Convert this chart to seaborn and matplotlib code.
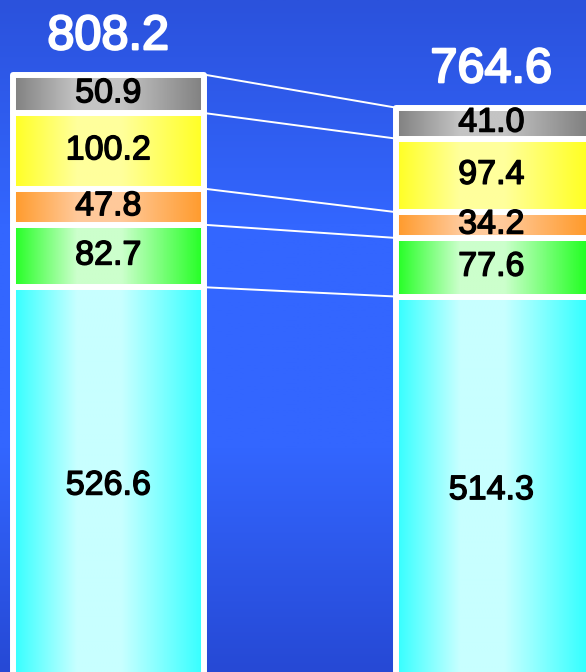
import numpy as np
import pandas as pd
import matplotlib
matplotlib.use("Agg")
import matplotlib.pyplot as plt
import matplotlib.patheffects as pe
from matplotlib.colors import LinearSegmentedColormap
import seaborn as sns

# Data (bottom segment first)
periods = ["A", "B"]
seg_names = ["cyan", "green", "orange", "yellow", "gray"]
cyan_vals = [526.6, 514.3]
green_vals = [82.7, 77.6]
orange_vals = [47.8, 34.2]
yellow_vals = [100.2, 97.4]
gray_vals = [50.9, 41.0]
totals = [808.2, 764.6]

# edge colour / centre colour of each segment's horizontal gradient
seg_colors = {
    "cyan": ("#33ffff", "#c8ffff"),
    "green": ("#22ff22", "#ccffcc"),
    "orange": ("#ff9a2a", "#ffc99a"),
    "yellow": ("#ffff22", "#ffff9c"),
    "gray": ("#808080", "#c4c4c4"),
}

df = pd.DataFrame({"period": periods, "cyan": cyan_vals, "green": green_vals,
                   "orange": orange_vals, "yellow": yellow_vals, "gray": gray_vals})

sns.set_theme(style="white")
plt.rcParams["font.family"] = ["Liberation Sans", "DejaVu Sans"]

fig = plt.figure(figsize=(5.86, 6.72), dpi=100)
ax = fig.add_axes([0, 0, 1, 1])

# blue background gradient
bg = LinearSegmentedColormap.from_list("bg", ["#2649d5", "#3366ff", "#3366ff", "#2b52dc"])
ax.imshow(np.linspace(0, 1, 256).reshape(-1, 1), cmap=bg, origin="lower", aspect="auto",
          extent=[0, 1, 0, 1], transform=ax.transAxes, zorder=0)

bottom = np.zeros(len(df))
bounds = [bottom.copy()]
for name in seg_names:
    n_before = len(ax.patches)
    sns.barplot(data=df, x="period", y=name, bottom=bottom, width=0.5, ax=ax,
                color="white", edgecolor="white", linewidth=4.3, zorder=3)
    edge, mid = seg_colors[name]
    cmap = LinearSegmentedColormap.from_list(name, [edge, mid, mid, edge], N=256)
    grad = np.interp(np.linspace(0, 1, 256), [0, 0.4, 0.48, 1], [0, 0.4, 0.6, 1]).reshape(1, -1)
    for p in ax.patches[n_before:]:
        p.set_joinstyle("round")
        p.set_facecolor("none")
        x0, y0 = p.get_x(), p.get_y()
        w, h = p.get_width(), p.get_height()
        im = ax.imshow(grad, cmap=cmap, aspect="auto", extent=[x0, x0 + w, y0, y0 + h],
                       zorder=2, interpolation="bilinear")
        im.set_clip_path(p)
        ax.text(x0 + w / 2, y0 + h / 2, f"{h:.1f}", ha="center", va="center",
                fontsize=24.5, color="black", zorder=5,
                path_effects=[pe.withStroke(linewidth=1.0, foreground="black")])
    bottom = bottom + df[name].values
    bounds.append(bottom.copy())

# connector lines between the two stacks
for b in bounds[1:]:
    ax.plot([0.25, 0.75], [b[0], b[1]], color="white", lw=1.4, zorder=1)

# totals above the stacks
for i, t in enumerate(totals):
    ax.annotate(f"{t:.1f}", (i, t), xytext=(0, 11), textcoords="offset points",
                ha="center", va="bottom", fontsize=35, color="white", zorder=5,
                path_effects=[pe.withStroke(linewidth=1.6, foreground="white")])

ax.set_xlim(-0.283, 1.247)
ax.set_ylim(17, 907)
ax.axis("off")

fig.savefig("out.png", dpi=100)
